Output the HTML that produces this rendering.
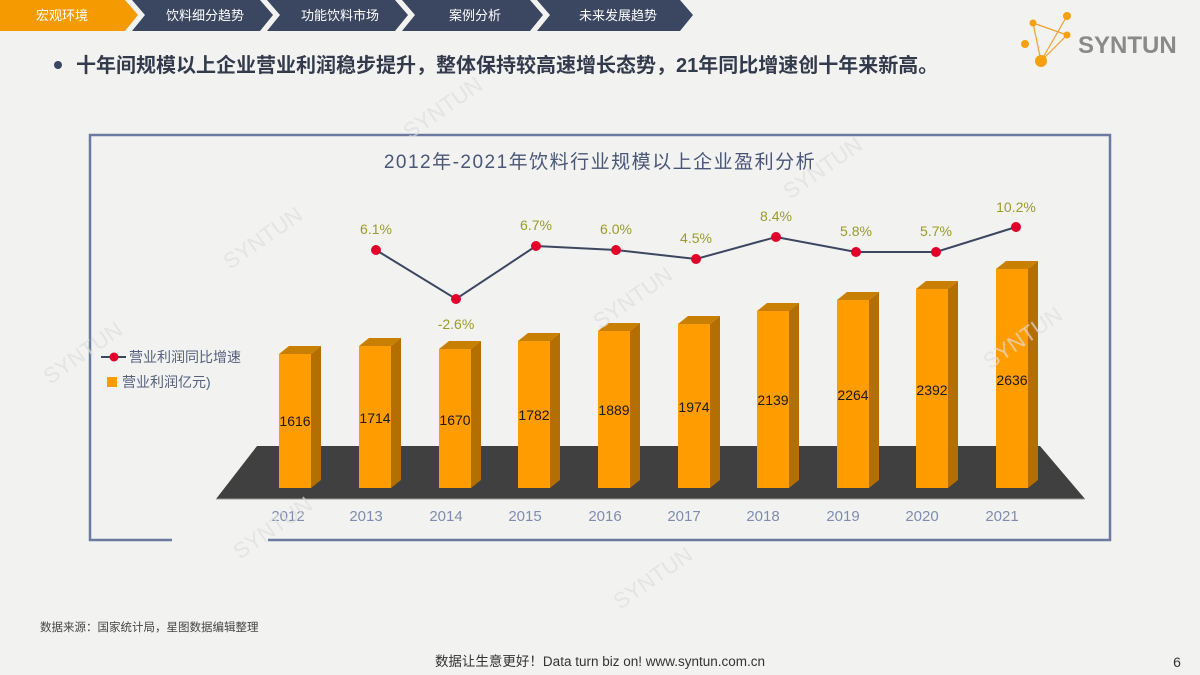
<!DOCTYPE html>
<html><head><meta charset="utf-8"><style>
body{margin:0;background:#f2f2f0;}
svg{display:block;font-family:"Liberation Sans","Noto Sans CJK SC",sans-serif;}
</style></head><body>
<svg width="1200" height="675" viewBox="0 0 1200 675" xmlns="http://www.w3.org/2000/svg">
<rect width="1200" height="675" fill="#f2f2f0"/>
<polygon points="0,0 125,0 138,15 125,31 0,31" fill="#f59a00"/>
<polygon points="132,0 260,0 273,15 260,31 132,31 145,15" fill="#3b4660"/>
<polygon points="267,0 395,0 408,15 395,31 267,31 280,15" fill="#3b4660"/>
<polygon points="402,0 530,0 543,15 530,31 402,31 415,15" fill="#3b4660"/>
<polygon points="537,0 680,0 693,15 680,31 537,31 550,15" fill="#3b4660"/>
<g fill="#fff" font-size="13" text-anchor="middle">
<text x="62" y="20">宏观环境</text><text x="205" y="20">饮料细分趋势</text><text x="340" y="20">功能饮料市场</text><text x="475" y="20">案例分析</text><text x="618" y="20">未来发展趋势</text></g>
<circle cx="58" cy="65" r="4" fill="#3b4660"/>
<text x="76" y="72" font-size="20" font-weight="bold" fill="#333a4c">十年间规模以上企业营业利润稳步提升，整体保持较高速增长态势，21年同比增速创十年来新高。</text>
<g stroke="#f0a030" stroke-width="1.2" fill="none"><polyline points="1033,23 1067,35 1041,61 1033,23"/><line x1="1067" y1="16" x2="1041" y2="61"/></g>
<g fill="#f5a010"><circle cx="1067" cy="16" r="4"/><circle cx="1033" cy="23" r="3.5"/><circle cx="1067" cy="35" r="3.5"/><circle cx="1025" cy="44" r="4"/><circle cx="1041" cy="61" r="6"/></g>
<text x="1078" y="53" font-size="24" font-weight="bold" fill="#8a8a8a">SYNTUN</text>
<g stroke="#6a7aa0" stroke-width="2.5" fill="none">
<polyline points="172,540 90,540 90,135 1110,135 1110,540 268,540"/></g>
<text x="600" y="168" font-size="19" fill="#4a5678" text-anchor="middle" letter-spacing="1.5">2012年-2021年饮料行业规模以上企业盈利分析</text>
<polygon points="257,446 1040,446 1085,499 216,499" fill="#404040"/>
<line x1="216" y1="499" x2="1085" y2="499" stroke="#999" stroke-width="1"/>
<g fill="#b46f00">
<polygon points="311,354 321,346 321,480 311,488"/><polygon points="391,346 401,338 401,480 391,488"/><polygon points="471,349 481,341 481,480 471,488"/><polygon points="550,341 560,333 560,480 550,488"/><polygon points="630,331 640,323 640,480 630,488"/><polygon points="710,324 720,316 720,480 710,488"/><polygon points="789,311 799,303 799,480 789,488"/><polygon points="869,300 879,292 879,480 869,488"/><polygon points="948,289 958,281 958,480 948,488"/><polygon points="1028,269 1038,261 1038,480 1028,488"/></g>
<g fill="#c98000">
<polygon points="279,354 289,346 321,346 311,354"/><polygon points="359,346 369,338 401,338 391,346"/><polygon points="439,349 449,341 481,341 471,349"/><polygon points="518,341 528,333 560,333 550,341"/><polygon points="598,331 608,323 640,323 630,331"/><polygon points="678,324 688,316 720,316 710,324"/><polygon points="757,311 767,303 799,303 789,311"/><polygon points="837,300 847,292 879,292 869,300"/><polygon points="916,289 926,281 958,281 948,289"/><polygon points="996,269 1006,261 1038,261 1028,269"/></g>
<g fill="#ff9c00">
<rect x="279" y="354" width="32" height="134"/><rect x="359" y="346" width="32" height="142"/><rect x="439" y="349" width="32" height="139"/><rect x="518" y="341" width="32" height="147"/><rect x="598" y="331" width="32" height="157"/><rect x="678" y="324" width="32" height="164"/><rect x="757" y="311" width="32" height="177"/><rect x="837" y="300" width="32" height="188"/><rect x="916" y="289" width="32" height="199"/><rect x="996" y="269" width="32" height="219"/></g>
<g font-size="14" fill="#1a1a1a" text-anchor="middle">
<text x="295" y="426">1616</text><text x="375" y="423">1714</text><text x="455" y="425">1670</text><text x="534" y="420">1782</text><text x="614" y="415">1889</text><text x="694" y="412">1974</text><text x="773" y="405">2139</text><text x="853" y="400">2264</text><text x="932" y="395">2392</text><text x="1012" y="385">2636</text></g>
<g font-size="15" fill="#7f8cb0" text-anchor="middle">
<text x="288" y="521">2012</text><text x="366" y="521">2013</text><text x="446" y="521">2014</text><text x="525" y="521">2015</text><text x="605" y="521">2016</text><text x="684" y="521">2017</text><text x="763" y="521">2018</text><text x="843" y="521">2019</text><text x="922" y="521">2020</text><text x="1002" y="521">2021</text></g>
<polyline points="376,250 456,299 536,246 616,250 696,259 776,237 856,252 936,252 1016,227" fill="none" stroke="#3b4660" stroke-width="2"/>
<g fill="#e0002a"><circle cx="376" cy="250" r="5"/><circle cx="456" cy="299" r="5"/><circle cx="536" cy="246" r="5"/><circle cx="616" cy="250" r="5"/><circle cx="696" cy="259" r="5"/><circle cx="776" cy="237" r="5"/><circle cx="856" cy="252" r="5"/><circle cx="936" cy="252" r="5"/><circle cx="1016" cy="227" r="5"/></g>
<g font-size="14" fill="#9a9a2a" text-anchor="middle">
<text x="376" y="234">6.1%</text><text x="456" y="329">-2.6%</text><text x="536" y="230">6.7%</text><text x="616" y="234">6.0%</text><text x="696" y="243">4.5%</text><text x="776" y="221">8.4%</text><text x="856" y="236">5.8%</text><text x="936" y="236">5.7%</text><text x="1016" y="212">10.2%</text></g>
<line x1="101" y1="357" x2="126" y2="357" stroke="#3b4660" stroke-width="2"/><circle cx="114" cy="357" r="4.5" fill="#e0002a"/>
<text x="129" y="362" font-size="14" fill="#55607e">营业利润同比增速</text>
<rect x="107" y="377" width="10" height="10" fill="#ff9c00"/>
<text x="122" y="387" font-size="14" fill="#55607e">营业利润亿元)</text>
<g font-size="22" fill="#dedede" opacity="0.7">
<text transform="translate(410,140) rotate(-35)">SYNTUN</text>
<text transform="translate(230,270) rotate(-35)">SYNTUN</text>
<text transform="translate(790,200) rotate(-35)">SYNTUN</text>
<text transform="translate(600,330) rotate(-35)">SYNTUN</text>
<text transform="translate(50,385) rotate(-35)">SYNTUN</text>
<text transform="translate(990,370) rotate(-35)">SYNTUN</text>
<text transform="translate(240,560) rotate(-35)">SYNTUN</text>
<text transform="translate(620,610) rotate(-35)">SYNTUN</text>
</g>
<text x="40" y="631" font-size="11.5" fill="#444">数据来源：国家统计局，星图数据编辑整理</text>
<text x="600" y="666" font-size="13.5" fill="#333" text-anchor="middle">数据让生意更好！Data turn biz on!  www.syntun.com.cn</text>
<text x="1177" y="667" font-size="14" fill="#333" text-anchor="middle">6</text>
</svg>
</body></html>
